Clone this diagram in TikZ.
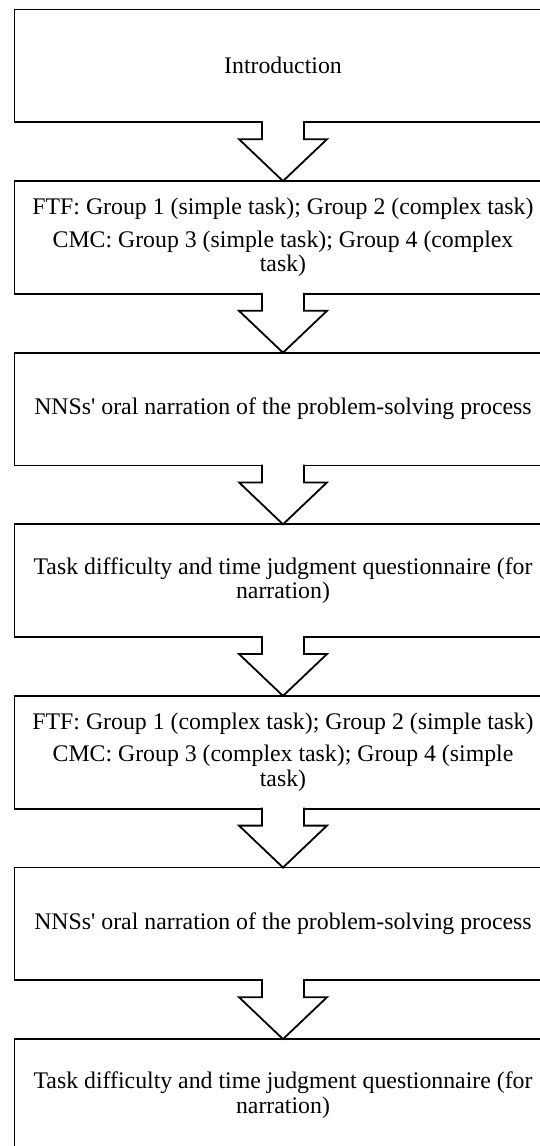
\documentclass[tikz,border=0pt]{standalone}
\usepackage{fontspec}
\setmainfont{Liberation Serif}[Ligatures=TeXOff]
\usetikzlibrary{calc}
\tikzset{
  box/.style={draw, line width=1.8pt, minimum width=537pt, minimum height=112.7pt,
    inner sep=0pt, outer sep=0pt},
  boxtext/.style={align=center, inner sep=0pt, font=\fontsize{23.8}{24.8}\selectfont},
  flow/.style={draw, line width=1.8pt, line join=miter},
}
\newcommand\blockarrow[2]{%
  \fill[white] ($(#1.south)+(-20,-2)$) -- ($(#1.south)+(-20,17)$) -- ($(#1.south)+(-43,17)$)
    -- (#2.north) -- ($(#1.south)+(43,17)$) -- ($(#1.south)+(20,17)$) -- ($(#1.south)+(20,-2)$) -- cycle;
  \path[flow] ($(#1.south)+(-21,-0.9)$) -- ($(#1.south)+(-21,17)$) -- ($(#1.south)+(-44,17)$)
    -- (#2.north) -- ($(#1.south)+(44,17)$) -- ($(#1.south)+(21,17)$) -- ($(#1.south)+(21,-0.9)$);
}
\begin{document}
\begin{tikzpicture}[x=1pt,y=-1pt]
\useasboundingbox (0,0) rectangle (540,1146);
\fill[white] (0,0) rectangle (540,1146);
\clip (0,0) rectangle (540,1146);
\foreach \i in {1,...,7}{
  \node[box] (b\i) at (283, {9.5+171.6*(\i-1)+56.35}) {};
}
\node[boxtext] (t1) at (b1) {Introduction};
\node[boxtext] (t2) at (b2) {FTF: Group 1 (simple task); Group 2 (complex task)\\[8pt]
  CMC: Group 3 (simple task); Group 4 (complex\\ task)};
\node[boxtext] (t3) at (b3) {NNSs' oral narration of the problem-solving process};
\node[boxtext] (t4) at (b4) {Task difficulty and time judgment questionnaire (for\\ narration)};
\node[boxtext] (t5) at (b5) {FTF: Group 1 (complex task); Group 2 (simple task)\\[8pt]
  CMC: Group 3 (complex task); Group 4 (simple\\ task)};
\node[boxtext] (t6) at (b6) {NNSs' oral narration of the problem-solving process};
\node[boxtext] (t7) at (b7) {Task difficulty and time judgment questionnaire (for\\ narration)};
\blockarrow{b1}{b2}
\blockarrow{b2}{b3}
\blockarrow{b3}{b4}
\blockarrow{b4}{b5}
\blockarrow{b5}{b6}
\blockarrow{b6}{b7}
\end{tikzpicture}
\end{document}
